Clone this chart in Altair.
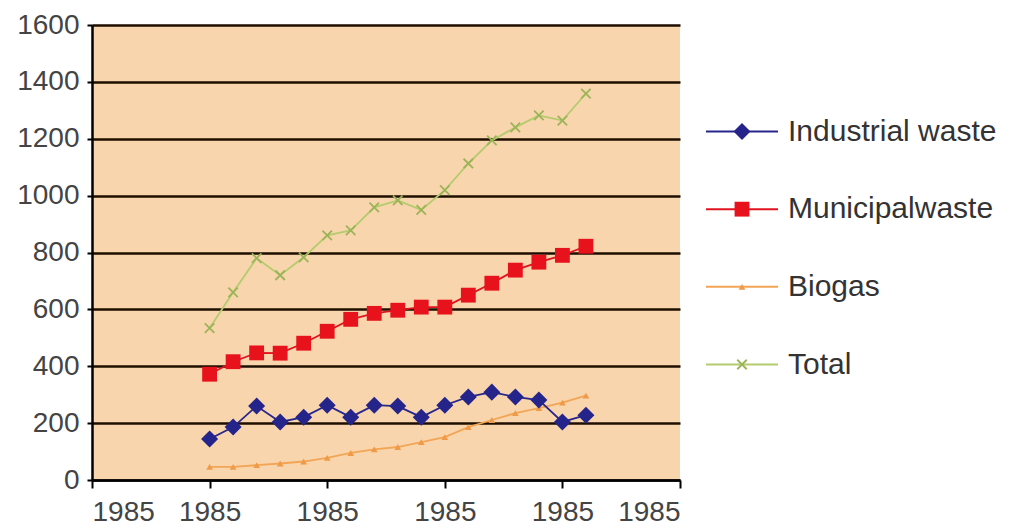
import altair as alt
import pandas as pd

# ---- data ----
positions = [5, 6, 7, 8, 9, 10, 11, 12, 13, 14, 15, 16, 17, 18, 19, 20, 21]
x_tick_values = [0, 5, 10, 15, 20, 25]
x_tick_label = "1985"
y_tick_values = [0, 200, 400, 600, 800, 1000, 1200, 1400, 1600]

series_names = ["Industrial waste", "Municipalwaste", "Biogas", "Total"]
industrial = [144, 186, 260, 204, 221, 263, 221, 263, 260, 221, 263, 292, 309, 292, 281, 204, 228]
municipal = [372, 416, 447, 446, 481, 523, 565, 586, 597, 608, 608, 650, 692, 738, 766, 790, 822]
biogas = [46, 46, 52, 58, 65, 78, 95, 108, 116, 133, 151, 186, 211, 235, 253, 272, 297]
total = [534, 660, 780, 720, 783, 860, 878, 959, 983, 950, 1019, 1113, 1194, 1240, 1282, 1264, 1359]

series_values = [industrial, municipal, biogas, total]

# ---- styles ----
line_colors = ["#26268C", "#E0141E", "#F2A555", "#B4CB6E"]
marker_colors = ["#24248A", "#E8121C", "#EE9A48", "#9CB458"]
marker_shapes = ["diamond", "square", "triangle-up", "M-1,-1L1,1M-1,1L1,-1"]
marker_sizes = [290, 220, 45, 90]
marker_filled = [True, True, True, False]

rows = []
for name, vals in zip(series_names, series_values):
    for p, v in zip(positions, vals):
        rows.append({"series": name, "pos": p, "value": v})
df = pd.DataFrame(rows)

X = alt.X("pos:Q", scale=alt.Scale(domain=[0, 25], nice=False, zero=False),
          axis=alt.Axis(values=x_tick_values, labelExpr="'" + x_tick_label + "'",
                        title=None, grid=False, tickSize=8, labelPadding=10))
Y = alt.Y("value:Q", scale=alt.Scale(domain=[0, 1600], nice=False),
          axis=alt.Axis(values=y_tick_values, format="d", title=None, grid=True,
                        tickSize=5, labelPadding=8))

draw_order = [3, 2, 1, 0]
layers = []
for i in draw_order:
    name = series_names[i]
    base = alt.Chart(df).transform_filter(alt.datum.series == name)
    layers.append(base.mark_line(color=line_colors[i], strokeWidth=1.8).encode(x=X, y=Y))
    if marker_filled[i]:
        pm = base.mark_point(shape=marker_shapes[i], size=marker_sizes[i], filled=True,
                             color=marker_colors[i], opacity=1)
    else:
        pm = base.mark_point(shape=marker_shapes[i], size=marker_sizes[i], filled=False,
                             color=marker_colors[i], opacity=1, strokeWidth=1.8)
    layers.append(pm.encode(x=X, y=Y))

main = alt.layer(*layers).properties(
    width=588, height=455,
    view=alt.ViewBackground(fill="#F9D5AD", stroke="#1a0d00", strokeWidth=2.5),
)

# ---- legend panel ----
leg_df = pd.DataFrame({"series": series_names})
LY = alt.Y("series:N", scale=alt.Scale(type="point", domain=series_names,
                                       range=[106.5, 339.5], padding=0), axis=None)
leg_layers = []
for i, name in enumerate(series_names):
    b = alt.Chart(leg_df).transform_filter(alt.datum.series == name)
    leg_layers.append(b.mark_rule(color=line_colors[i], strokeWidth=2).encode(
        x=alt.value(16), x2=alt.value(88), y=LY))
    if marker_filled[i]:
        pm = b.mark_point(shape=marker_shapes[i], size=marker_sizes[i], filled=True,
                          color=marker_colors[i], opacity=1)
    else:
        pm = b.mark_point(shape=marker_shapes[i], size=marker_sizes[i], filled=False,
                          color=marker_colors[i], opacity=1, strokeWidth=1.8)
    leg_layers.append(pm.encode(x=alt.value(52), y=LY))
leg_layers.append(alt.Chart(leg_df).mark_text(
    align="left", baseline="middle", font="Liberation Sans", fontSize=30, color="#333333"
).encode(x=alt.value(98), y=LY, text="series:N"))

legend = alt.layer(*leg_layers).properties(
    width=312, height=455,
    view=alt.ViewBackground(strokeOpacity=0),
)

chart = alt.hconcat(main, legend, spacing=10, bounds="flush").properties(
    padding={"left": 16, "top": 11, "right": 0, "bottom": 0},
    background="white",
).configure_axis(
    labelFont="Liberation Sans", labelFontSize=28, labelColor="#444444",
    domainColor="#000000", domainWidth=2.5, tickColor="#000000", tickWidth=2,
    gridColor="#1e0e00", gridWidth=2.5, gridOpacity=1,
).configure_view(strokeOpacity=0)

chart.save("out.html", embed_options={"renderer": "svg", "actions": False})
